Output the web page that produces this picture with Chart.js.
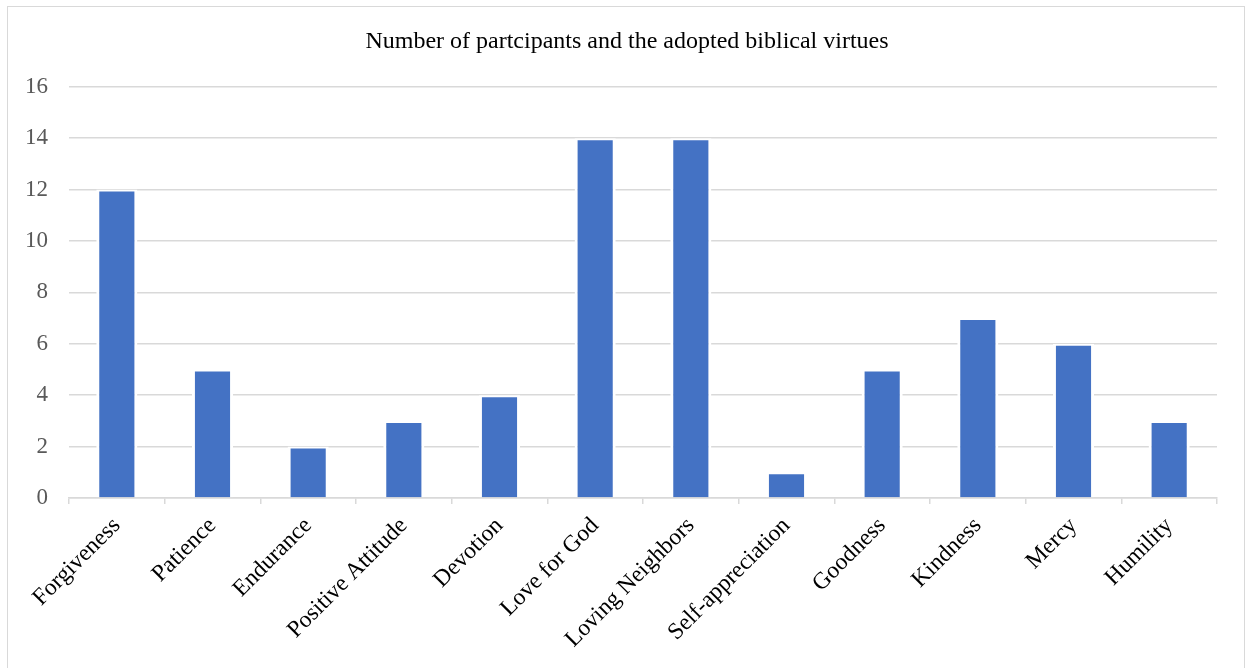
<!DOCTYPE html>
<html>
<head>
<meta charset="utf-8">
<script src="https://cdn.jsdelivr.net/npm/chart.js@4.4.1/dist/chart.umd.min.js"></script>
<style>
  html, body { margin: 0; padding: 0; background: #fff; }
  #wrap { position: relative; width: 1254px; height: 668px; }
  #frame {
    position: absolute; left: 7px; top: 6px; width: 1238px; height: 700px;
    border: 1px solid #d9d9d9; box-sizing: border-box; pointer-events: none;
  }
  canvas { position: absolute; left: 0; top: 0; }
</style>
</head>
<body>
<div id="wrap">
  <canvas id="chart" width="1254" height="668"></canvas>
  <div id="frame"></div>
</div>
<script>
// virtues adopted by participants
const VIRTUES = ['Forgiveness', 'Patience', 'Endurance', 'Positive Attitude', 'Devotion',
    'Love for God', 'Loving Neighbors', 'Self-appreciation', 'Goodness', 'Kindness', 'Mercy', 'Humility'];
const PARTICIPANTS = [12, 5, 2, 3, 4, 14, 14, 1, 5, 7, 6, 3];
const Y_MAX = 16;
const Y_STEP = 2;

const SERIF = '"Liberation Serif", "Times New Roman", serif';
const GRID = '#d9d9d9';

// centre the title over the whole canvas, not just the padded box
const centerTitle = {
    id: 'centerTitle',
    afterLayout(chart) {
        if (chart.titleBlock) {
            chart.titleBlock.left = 0;
            chart.titleBlock.right = chart.width;
        }
    }
};

new Chart(document.getElementById('chart'), {
    type: 'bar',
    data: {
        labels: VIRTUES,
        datasets: [{
            label: 'Participants',
            data: PARTICIPANTS,
            backgroundColor: '#4472c4',
            borderColor: '#ffffff',
            borderWidth: { top: 2, left: 3, right: 3, bottom: 0 },
            borderSkipped: false,
            barPercentage: 0.43,
            categoryPercentage: 1.0,
        }]
    },
    plugins: [centerTitle],
    options: {
        responsive: false,
        animation: false,
        layout: { padding: { left: 8, right: 37, top: 0, bottom: 0 } },
        plugins: {
            legend: { display: false },
            tooltip: { enabled: false },
            title: {
                display: true,
                text: 'Number of partcipants and the adopted biblical virtues',
                color: '#000',
                font: { family: SERIF, size: 24, weight: 'normal', lineHeight: 1.2 },
                padding: { top: 27, bottom: 31 }
            }
        },
        scales: {
            x: {
                grid: {
                    offset: true,
                    drawOnChartArea: false,
                    drawTicks: true,
                    tickLength: 6,
                    color: GRID,
                    lineWidth: 1.5,
                },
                border: { color: GRID, width: 1.5 },
                ticks: {
                    color: '#000',
                    font: { family: SERIF, size: 23.5 },
                    maxRotation: 45,
                    minRotation: 45,
                    padding: 8,
                    autoSkip: false,
                },
                afterFit: s => { s.height = 170; }
            },
            y: {
                min: 0,
                max: Y_MAX,
                grid: { color: GRID, lineWidth: 1.5, drawTicks: false },
                border: { display: false },
                ticks: {
                    stepSize: Y_STEP,
                    color: '#595959',
                    font: { family: SERIF, size: 23 },
                    padding: 21,
                },
                afterFit: s => { s.width = 61; }
            }
        }
    }
});
</script>
</body>
</html>
